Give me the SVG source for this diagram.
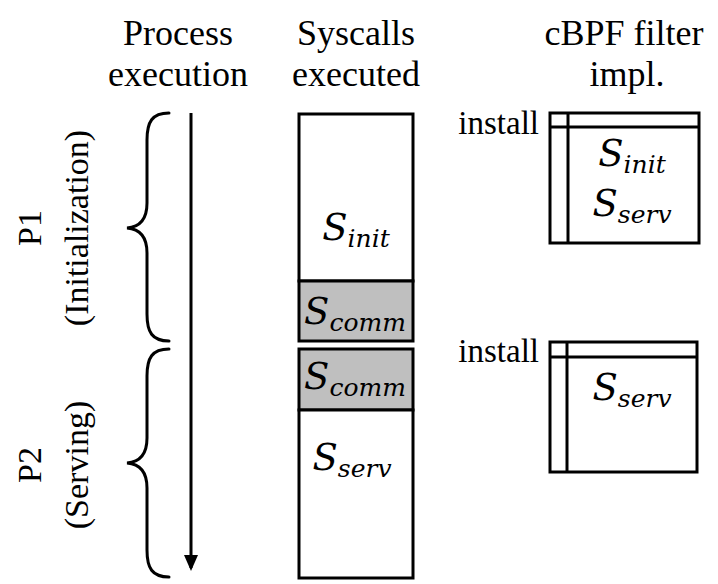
<svg xmlns="http://www.w3.org/2000/svg" width="718" height="584" viewBox="0 0 718 584">
  <defs>
    <style>
      text { font-family: "Liberation Serif", "Times New Roman", serif; fill: #000; }
      .hdr { font-size: 36px; text-anchor: middle; }
      .lbl { font-size: 34px; text-anchor: middle; }
      .ins { font-size: 33px; text-anchor: end; }
      .math { font-family: "DejaVu Serif", "Liberation Serif", serif; font-style: italic; font-size: 37px; text-anchor: middle; }
      .sub { font-size: 25px; }
      .box { fill: #fff; stroke: #000; stroke-width: 3; }
      .gray { fill: #bfbfbf; stroke: #000; stroke-width: 3; }
      .line { fill: none; stroke: #000; stroke-width: 3; }
      .brace { fill: none; stroke: #000; stroke-width: 3; stroke-linecap: round; }
    </style>
    <marker id="arrowhead" viewBox="0 0 16 14" refX="13" refY="7" markerWidth="16" markerHeight="14" orient="auto" markerUnits="userSpaceOnUse">
      <path d="M0,0 L16,7 L0,14 z" fill="#000"/>
    </marker>
  </defs>
  <rect width="718" height="584" fill="#fff"/>

  <!-- column headings -->
  <g id="headings">
    <text class="hdr" x="178" y="45">Process</text>
    <text class="hdr" x="178" y="86">execution</text>
    <text class="hdr" x="356" y="45">Syscalls</text>
    <text class="hdr" x="356" y="86">executed</text>
    <text class="hdr" x="624" y="45">cBPF filter</text>
    <text class="hdr" x="627" y="86">impl.</text>
  </g>

  <!-- time axis -->
  <g id="connectors">
    <line class="line" x1="191" y1="113" x2="191" y2="568" marker-end="url(#arrowhead)"/>
  </g>

  <!-- phase P1 -->
  <g id="phase-p1">
    <path class="brace" d="M169,113 C152,113 147,122 147,140 L147,203 C147,219 140,227 127,228 C140,229 147,237 147,253 L147,314 C147,332 152,341 169,341"/>
    <text class="lbl" transform="translate(41,228) rotate(-90)">P1</text>
    <text class="lbl" transform="translate(88,228) rotate(-90)">(Initialization)</text>
  </g>

  <!-- phase P2 -->
  <g id="phase-p2">
    <path class="brace" d="M169,349 C152,349 147,358 147,376 L147,438 C147,454 140,462 127,463 C140,464 147,472 147,488 L147,550 C147,568 152,577 169,577"/>
    <text class="lbl" transform="translate(41,465) rotate(-90)">P2</text>
    <text class="lbl" transform="translate(88,465) rotate(-90)">(Serving)</text>
  </g>

  <!-- syscalls executed in P1 -->
  <g id="syscalls-init">
    <rect class="box" x="299" y="114" width="114" height="167"/>
    <text class="math" x="356" y="240">S<tspan class="sub" dy="7">init</tspan></text>
  </g>
  <g id="syscalls-comm-1">
    <rect class="gray" x="299" y="281" width="114" height="60"/>
    <text class="math" x="355" y="324">S<tspan class="sub" dy="7">comm</tspan></text>
  </g>

  <!-- syscalls executed in P2 -->
  <g id="syscalls-comm-2">
    <rect class="gray" x="299" y="349" width="114" height="61"/>
    <text class="math" x="355" y="389">S<tspan class="sub" dy="7">comm</tspan></text>
  </g>
  <g id="syscalls-serv">
    <rect class="box" x="299" y="410" width="114" height="168"/>
    <text class="math" x="352" y="470">S<tspan class="sub" dy="7">serv</tspan></text>
  </g>

  <!-- first installed filter -->
  <g id="filter-1">
    <text class="ins" x="539" y="134">install</text>
    <rect class="box" x="550" y="113" width="149" height="130"/>
    <line class="line" x1="568" y1="113" x2="568" y2="243"/>
    <line class="line" x1="550" y1="127" x2="699" y2="127"/>
    <text class="math" x="632" y="166">S<tspan class="sub" dy="7">init</tspan></text>
    <text class="math" x="632" y="216">S<tspan class="sub" dy="7">serv</tspan></text>
  </g>

  <!-- second installed filter -->
  <g id="filter-2">
    <text class="ins" x="539" y="362">install</text>
    <rect class="box" x="550" y="342" width="147" height="130"/>
    <line class="line" x1="567" y1="342" x2="567" y2="472"/>
    <line class="line" x1="550" y1="357" x2="697" y2="357"/>
    <text class="math" x="632" y="400">S<tspan class="sub" dy="7">serv</tspan></text>
  </g>
</svg>
